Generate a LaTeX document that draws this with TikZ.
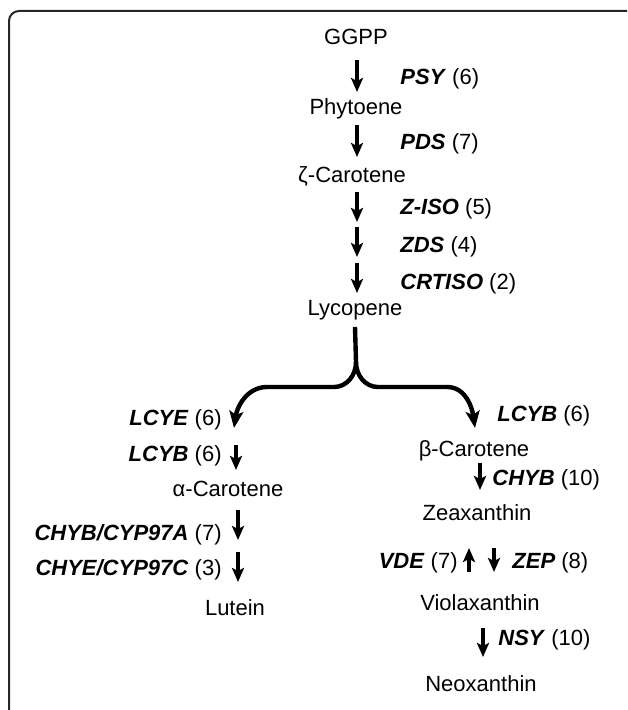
\documentclass[tikz,border=0pt]{standalone}
\usepackage{fontspec}
\setmainfont{Liberation Sans}
\usetikzlibrary{arrows.meta}
\newcommand{\enz}[2]{\textbf{\textit{#1}} (#2)}
\tikzset{
  metab/.style= {
    anchor = base,
    inner sep = 0pt,
    font = \fontsize{11}{13}\selectfont
  },
  enzleft/.style= {
    anchor = base east,
    inner sep = 0pt,
    font = \fontsize{11}{13}\selectfont
  },
  enzright/.style= {
    anchor = base west,
    inner sep = 0pt,
    font = \fontsize{11}{13}\selectfont
  },
  steparrow/.style= {
    -{Stealth[length=7pt,width=6pt,inset=1.5pt]},
    line width = 2pt
  },
  brancharrow/.style= {
    -{Stealth[length=8.5pt,width=7pt,inset=2pt]},
    line width = 2.2pt
  },
  frame/.style= {
    draw = black!85,
    line width = 1pt,
    rounded corners = 5pt
  }
}

\begin{document}
\begin{tikzpicture}[x=0.5pt,y=-0.5pt]
  \useasboundingbox (0,0) rectangle (627,710);
  \clip (0,0) rectangle (627,710);
  \draw[frame] (9,740) -- (9,11) -- (645,11) -- (645,740);

  % main trunk
  \node[metab] (ggpp) at (356,45) {GGPP};
  \node[metab] (phyt) at (356,115) {Phytoene};
  \node[metab] (zcar) at (352,183) {ζ-Carotene};
  \node[metab] (lyco) at (355,315) {Lycopene};

  \node[enzright] (psy) at (400,85) {\enz{PSY}{6}};
  \node[enzright] (pds) at (400,150) {\enz{PDS}{7}};
  \node[enzright] (ziso) at (400,215) {\enz{Z-ISO}{5}};
  \node[enzright] (zds) at (400,253) {\enz{ZDS}{4}};
  \node[enzright] (crtiso) at (400,290) {\enz{CRTISO}{2}};

  \coordinate (psy-a) at (357,60);
  \coordinate (psy-b) at (357,92);
  \coordinate (pds-a) at (357,125);
  \coordinate (pds-b) at (357,157);
  \coordinate (ziso-a) at (357,192);
  \coordinate (ziso-b) at (357,222);
  \coordinate (zds-a) at (357,227);
  \coordinate (zds-b) at (357,257);
  \coordinate (crtiso-a) at (357,263);
  \coordinate (crtiso-b) at (357,293);
  \draw[steparrow] (psy-a) -- (psy-b);
  \draw[steparrow] (pds-a) -- (pds-b);
  \draw[steparrow] (ziso-a) -- (ziso-b);
  \draw[steparrow] (zds-a) -- (zds-b);
  \draw[steparrow] (crtiso-a) -- (crtiso-b);

  % fork below lycopene
  \coordinate (fork) at (356,362);
  \coordinate (fork-l) at (334,387);
  \coordinate (bend-l) at (267,387);
  \coordinate (lcye-tip) at (234,428);
  \coordinate (fork-r) at (378,387);
  \coordinate (bend-r) at (447,387);
  \coordinate (lcyb-tip) at (475,428);
  \draw[brancharrow] ([yshift=-3.5pt]lyco.south) -- (fork)
    to[out=-90,in=0] (fork-l) -- (bend-l) to[out=180,in=82] (lcye-tip);
  \draw[brancharrow] (fork)
    to[out=-90,in=180] (fork-r) -- (bend-r) to[out=0,in=98] (lcyb-tip);

  % alpha branch
  \node[enzleft] (lcye) at (222,425) {\enz{LCYE}{6}};
  \node[enzleft] (lcyb-a) at (222,461) {\enz{LCYB}{6}};
  \node[metab] (acar) at (228,496) {α-Carotene};
  \node[enzleft] (chyb-a) at (222,540) {\enz{CHYB/CYP97A}{7}};
  \node[enzleft] (chye) at (222,575) {\enz{CHYE/CYP97C}{3}};
  \node[metab] (lut) at (235,615) {Lutein};

  \coordinate (lcyb-a-a) at (236,445);
  \coordinate (lcyb-a-b) at (236,470);
  \coordinate (chyb-a-a) at (238,510);
  \coordinate (chyb-a-b) at (238,540);
  \coordinate (chye-a) at (238,552);
  \coordinate (chye-b) at (238,582);
  \draw[steparrow] (lcyb-a-a) -- (lcyb-a-b);
  \draw[steparrow] (chyb-a-a) -- (chyb-a-b);
  \draw[steparrow] (chye-a) -- (chye-b);

  % beta branch
  \node[enzright] (lcyb-b) at (497,421) {\enz{LCYB}{6}};
  \node[metab] (bcar) at (474,456) {β-Carotene};
  \node[enzright] (chyb-b) at (492,485) {\enz{CHYB}{10}};
  \node[metab] (zea) at (477,520) {Zeaxanthin};
  \node[enzleft] (vde) at (458,568) {\enz{VDE}{7}};
  \node[enzright] (zep) at (512,568) {\enz{ZEP}{8}};
  \node[metab] (viol) at (480,610) {Violaxanthin};
  \node[enzright] (nsy) at (498,645) {\enz{NSY}{10}};
  \node[metab] (neo) at (481,691) {Neoxanthin};

  \coordinate (chyb-b-a) at (480,463);
  \coordinate (chyb-b-b) at (480,490);
  \coordinate (vde-a) at (469,572);
  \coordinate (vde-b) at (469,548);
  \coordinate (zep-a) at (494,548);
  \coordinate (zep-b) at (494,572);
  \coordinate (nsy-a) at (483,628);
  \coordinate (nsy-b) at (483,657);
  \draw[steparrow] (chyb-b-a) -- (chyb-b-b);
  \draw[steparrow] (vde-a) -- (vde-b);
  \draw[steparrow] (zep-a) -- (zep-b);
  \draw[steparrow] (nsy-a) -- (nsy-b);
\end{tikzpicture}
\end{document}
